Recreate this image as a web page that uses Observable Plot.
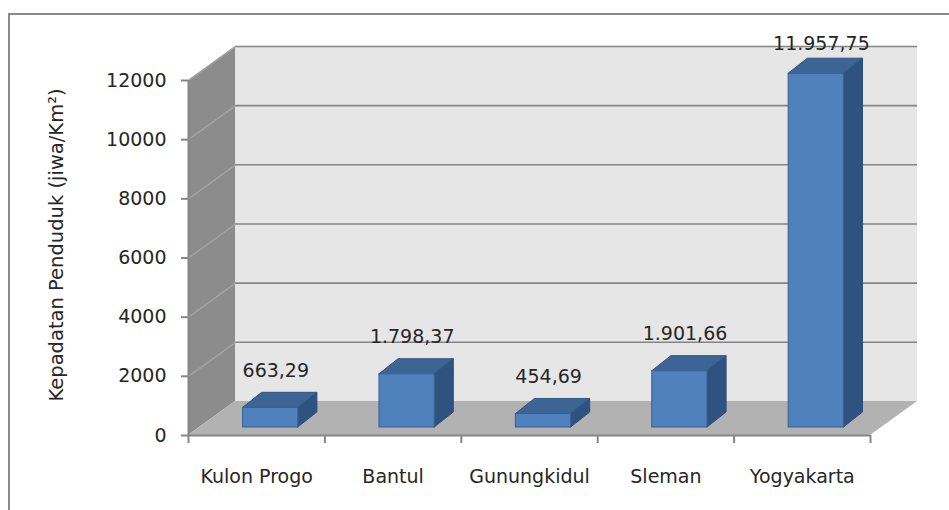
<!DOCTYPE html>
<html>
<head>
<meta charset="utf-8">
<script src="https://cdn.jsdelivr.net/npm/d3@7"></script>
<script src="https://cdn.jsdelivr.net/npm/@observablehq/plot@0.6"></script>
<style>
  html, body { margin: 0; padding: 0; background: #fff; overflow: hidden; }
  #wrap { position: relative; width: 949px; height: 510px; }
  #border { position: absolute; left: 8px; top: 13px; width: 980px; height: 540px; border: 2px solid #8a8a8a; box-sizing: border-box; pointer-events: none; }
  #chart { position: absolute; left: 0; top: 0; }
</style>
</head>
<body>
<div id="wrap"><div id="border"></div><div id="chart"></div></div>
<script>
const categories = ["Kulon Progo", "Bantul", "Gunungkidul", "Sleman", "Yogyakarta"];
const values = [663.29, 1798.37, 454.69, 1901.66, 11957.75];
const valueLabels = ["663,29", "1.798,37", "454,69", "1.901,66", "11.957,75"];
const yTicks = [0, 2000, 4000, 6000, 8000, 10000, 12000];
const yTitle = "Kepadatan Penduduk (jiwa/Km²)";

// 3D geometry (in scale units)
const yMax = 12000;
const nCat = categories.length;
const DX = 0.345, DY = 1150;            // wall depth
const BX = 0.40, BW = 0.405;            // bar front-face offset & width within a band
const BDX = 0.14, BDY = 510;            // bar depth
const BASE = 270;                        // bar base lift (bars sit into the floor)

const idx = categories.map((_, i) => i);
const leftWall = [{x: 0, y1: 0, y2: yMax}, {x: DX, y1: DY, y2: yMax + DY}];
const floor = [{y: 0, x1: 0, x2: nCat}, {y: DY, x1: DX, x2: nCat + DX}];
const barSide = idx.flatMap(i => [
  {z: i, x: i + BX + BW, y1: BASE, y2: values[i] + BASE},
  {z: i, x: i + BX + BW + BDX, y1: BASE + BDY, y2: values[i] + BASE + BDY}
]);
const barTop = idx.flatMap(i => [
  {z: i, y: values[i] + BASE, x1: i + BX, x2: i + BX + BW},
  {z: i, y: values[i] + BASE + BDY, x1: i + BX + BDX, x2: i + BX + BW + BDX}
]);

const font = "DejaVu Sans, sans-serif";
const chart = Plot.plot({
  width: 949,
  height: 510,
  marginLeft: 188,
  marginRight: 79,
  marginTop: 80,
  marginBottom: 75,
  style: {fontFamily: font, fontSize: "19px", color: "#262626", background: "transparent"},
  x: {domain: [0, nCat], axis: null},
  y: {domain: [0, yMax], axis: null},
  marks: [
    // back wall
    Plot.rect([0], {x1: DX, x2: nCat + DX, y1: DY, y2: yMax + DY, fill: "#e6e6e6"}),
    // left wall
    Plot.areaY(leftWall, {x: "x", y1: "y1", y2: "y2", fill: "#8c8c8c"}),
    // floor
    Plot.areaX(floor, {y: "y", x1: "x1", x2: "x2", fill: "#b2b2b2"}),
    // gridlines on back wall and left wall
    Plot.ruleY(yTicks.filter(d => d > 0), {y: d => d + DY, x1: DX, x2: nCat + DX, stroke: "#848484", strokeWidth: 1.6}),
    Plot.link(yTicks.filter(d => d > 0), {x1: 0, y1: d => d, x2: DX, y2: d => d + DY, stroke: "#a3a3a3", strokeWidth: 1.4}),
    // bars: side, top, front
    Plot.areaY(barSide, {x: "x", y1: "y1", y2: "y2", z: "z", fill: "#2f5281", stroke: "#2b4d7a", strokeWidth: 1}),
    Plot.areaX(barTop, {y: "y", x1: "x1", x2: "x2", z: "z", fill: "#3c6495", stroke: "#2f5483", strokeWidth: 1}),
    Plot.rect(idx, {x1: i => i + BX, x2: i => i + BX + BW, y1: BASE, y2: i => values[i] + BASE, fill: "#4f81bd", stroke: "#3a6090", strokeWidth: 1}),
    // axes lines
    Plot.ruleX([0], {y1: 0, y2: yMax, stroke: "#868686", strokeWidth: 2}),
    Plot.ruleY([0], {x1: 0, x2: nCat, stroke: "#868686", strokeWidth: 2}),
    Plot.axisY({ticks: yTicks, tickSize: 7, tickPadding: 15, tickFormat: d => String(d), stroke: "#868686", strokeWidth: 2, fontSize: 19, fill: "#262626"}),
    Plot.axisX({ticks: d3.range(nCat + 1), tickSize: 8, tickFormat: () => "", stroke: "#868686", strokeWidth: 2}),
    // category labels
    Plot.text(idx, {x: i => i + 0.5, y: 0, dy: 41, text: i => categories[i], fontSize: 19, fill: "#262626"}),
    // value labels
    Plot.text(idx, {x: i => i + 0.64, y: i => Math.min(values[i], yMax - 270), dy: -45, text: i => valueLabels[i], fontSize: 19, fill: "#262626"}),
    // y title
    Plot.text([yTitle], {frameAnchor: "left", textAnchor: "middle", dx: -132, dy: -13, rotate: -90, fontSize: 19.5, fill: "#262626"})
  ]
});
document.getElementById("chart").appendChild(chart);
</script>
</body>
</html>
